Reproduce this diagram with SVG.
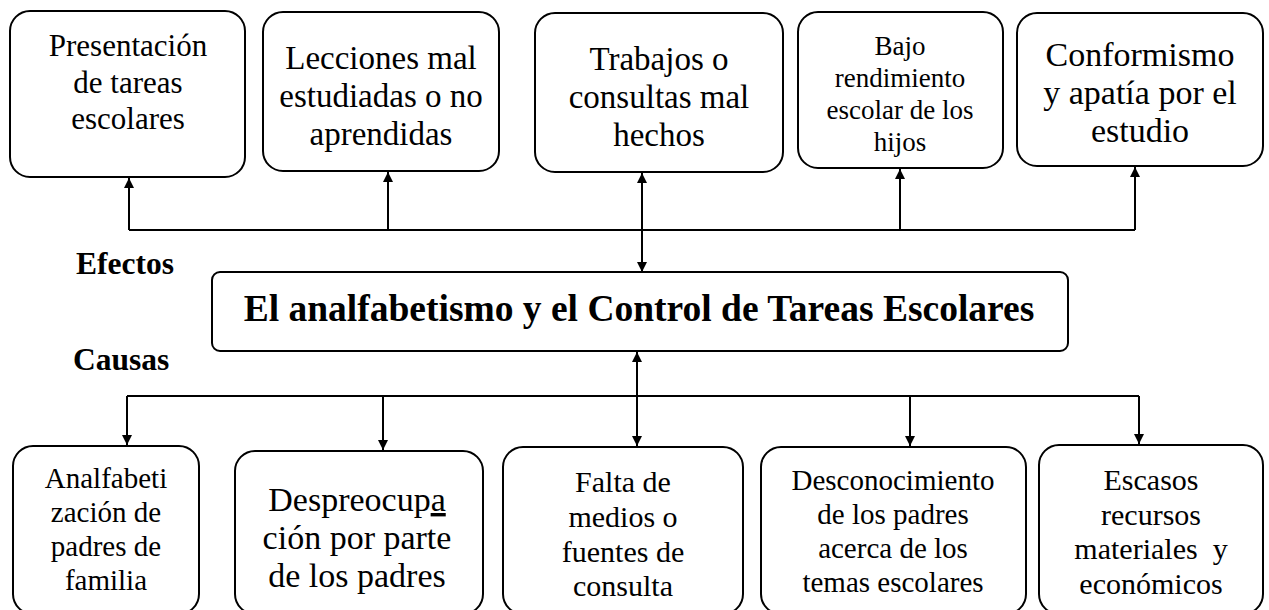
<svg xmlns="http://www.w3.org/2000/svg" width="1269" height="610" viewBox="0 0 1269 610">
<defs>
<marker id="ah" viewBox="0 0 10 10" refX="10" refY="5" markerWidth="10" markerHeight="12" markerUnits="userSpaceOnUse" orient="auto-start-reverse">
<path d="M0,0 L10,5 L0,10 Z" fill="#000"/>
</marker>
<style>
.box{fill:#fff;stroke:#000;stroke-width:2}
.t{font-family:"Liberation Serif","Times New Roman",serif;fill:#000;text-anchor:middle}
.b{font-family:"Liberation Serif","Times New Roman",serif;font-weight:bold;fill:#000}
.ln{fill:none;stroke:#000;stroke-width:2}
.ar{fill:none;stroke:#000;stroke-width:2;marker-end:url(#ah)}
.ar2{fill:none;stroke:#000;stroke-width:2;marker-end:url(#ah);marker-start:url(#ah)}
</style>
</defs>
<rect width="1269" height="610" fill="#fff"/>
<g id="connectors">
<path class="ln" d="M129,230 H1135"/>
<path class="ar" d="M129,230 V178"/>
<path class="ar" d="M388,230 V172"/>
<path class="ar2" d="M642,173 V272"/>
<path class="ar" d="M900,230 V169"/>
<path class="ar" d="M1135,230 V167"/>
<path class="ln" d="M127,396 H1139"/>
<path class="ar" d="M127,396 V445"/>
<path class="ar" d="M383,396 V450"/>
<path class="ar2" d="M637,352 V446"/>
<path class="ar" d="M910,396 V446"/>
<path class="ar" d="M1139,396 V444"/>
</g>
<g id="e1"><rect class="box" x="10" y="11" width="235" height="166" rx="20"/>
<text class="t" font-size="31"><tspan x="128" y="56">Presentación</tspan><tspan x="128" y="93">de tareas</tspan><tspan x="128" y="129">escolares</tspan></text></g>
<g id="e2"><rect class="box" x="263" y="12" width="236" height="159" rx="20"/>
<text class="t" font-size="33"><tspan x="381" y="69">Lecciones mal</tspan><tspan x="381" y="107">estudiadas o no</tspan><tspan x="381" y="145">aprendidas</tspan></text></g>
<g id="e3"><rect class="box" x="535" y="13" width="248" height="159" rx="20"/>
<text class="t" font-size="33"><tspan x="659" y="70">Trabajos o</tspan><tspan x="659" y="108">consultas mal</tspan><tspan x="659" y="146">hechos</tspan></text></g>
<g id="e4"><rect class="box" x="798" y="12" width="205" height="156" rx="20"/>
<text class="t" font-size="27"><tspan x="900" y="55">Bajo</tspan><tspan x="900" y="87">rendimiento</tspan><tspan x="900" y="119">escolar de los</tspan><tspan x="900" y="151">hijos</tspan></text></g>
<g id="e5"><rect class="box" x="1017" y="13" width="246" height="153" rx="20"/>
<text class="t" font-size="34"><tspan x="1140" y="66">Conformismo</tspan><tspan x="1140" y="104">y apatía por el</tspan><tspan x="1140" y="142">estudio</tspan></text></g>
<g id="lbl-efectos"><text class="b" font-size="31.5" x="76" y="274">Efectos</text></g>
<g id="main"><rect class="box" x="212" y="272" width="856" height="79" rx="8"/>
<text class="t" font-size="37.5" font-weight="bold" x="639" y="321">El analfabetismo y el Control de Tareas Escolares</text></g>
<g id="lbl-causas"><text class="b" font-size="31.5" x="73" y="370">Causas</text></g>
<g id="c1"><rect class="box" x="13" y="446" width="186" height="168" rx="20"/>
<text class="t" font-size="29"><tspan x="106" y="488">Analfabeti</tspan><tspan x="106" y="522">zación de</tspan><tspan x="106" y="556">padres de</tspan><tspan x="106" y="590">familia</tspan></text></g>
<g id="c2"><rect class="box" x="235" y="451" width="248" height="163" rx="20"/>
<text class="t" font-size="34"><tspan x="357" y="511">Despreocup<tspan text-decoration="underline">a</tspan></tspan><tspan x="357" y="549">ción por parte</tspan><tspan x="357" y="587">de los padres</tspan></text></g>
<g id="c3"><rect class="box" x="503" y="447" width="240" height="167" rx="20"/>
<text class="t" font-size="30"><tspan x="623" y="492">Falta de</tspan><tspan x="623" y="527">medios o</tspan><tspan x="623" y="562">fuentes de</tspan><tspan x="623" y="596">consulta</tspan></text></g>
<g id="c4"><rect class="box" x="761" y="447" width="265" height="167" rx="20"/>
<text class="t" font-size="29"><tspan x="893" y="490">Desconocimiento</tspan><tspan x="893" y="524">de los padres</tspan><tspan x="893" y="558">acerca de los</tspan><tspan x="893" y="592">temas escolares</tspan></text></g>
<g id="c5"><rect class="box" x="1039" y="445" width="224" height="169" rx="20"/>
<text class="t" font-size="30" xml:space="preserve"><tspan x="1151" y="490">Escasos</tspan><tspan x="1151" y="525">recursos</tspan><tspan x="1151" y="559">materiales  y</tspan><tspan x="1151" y="594">económicos</tspan></text></g>
</svg>
